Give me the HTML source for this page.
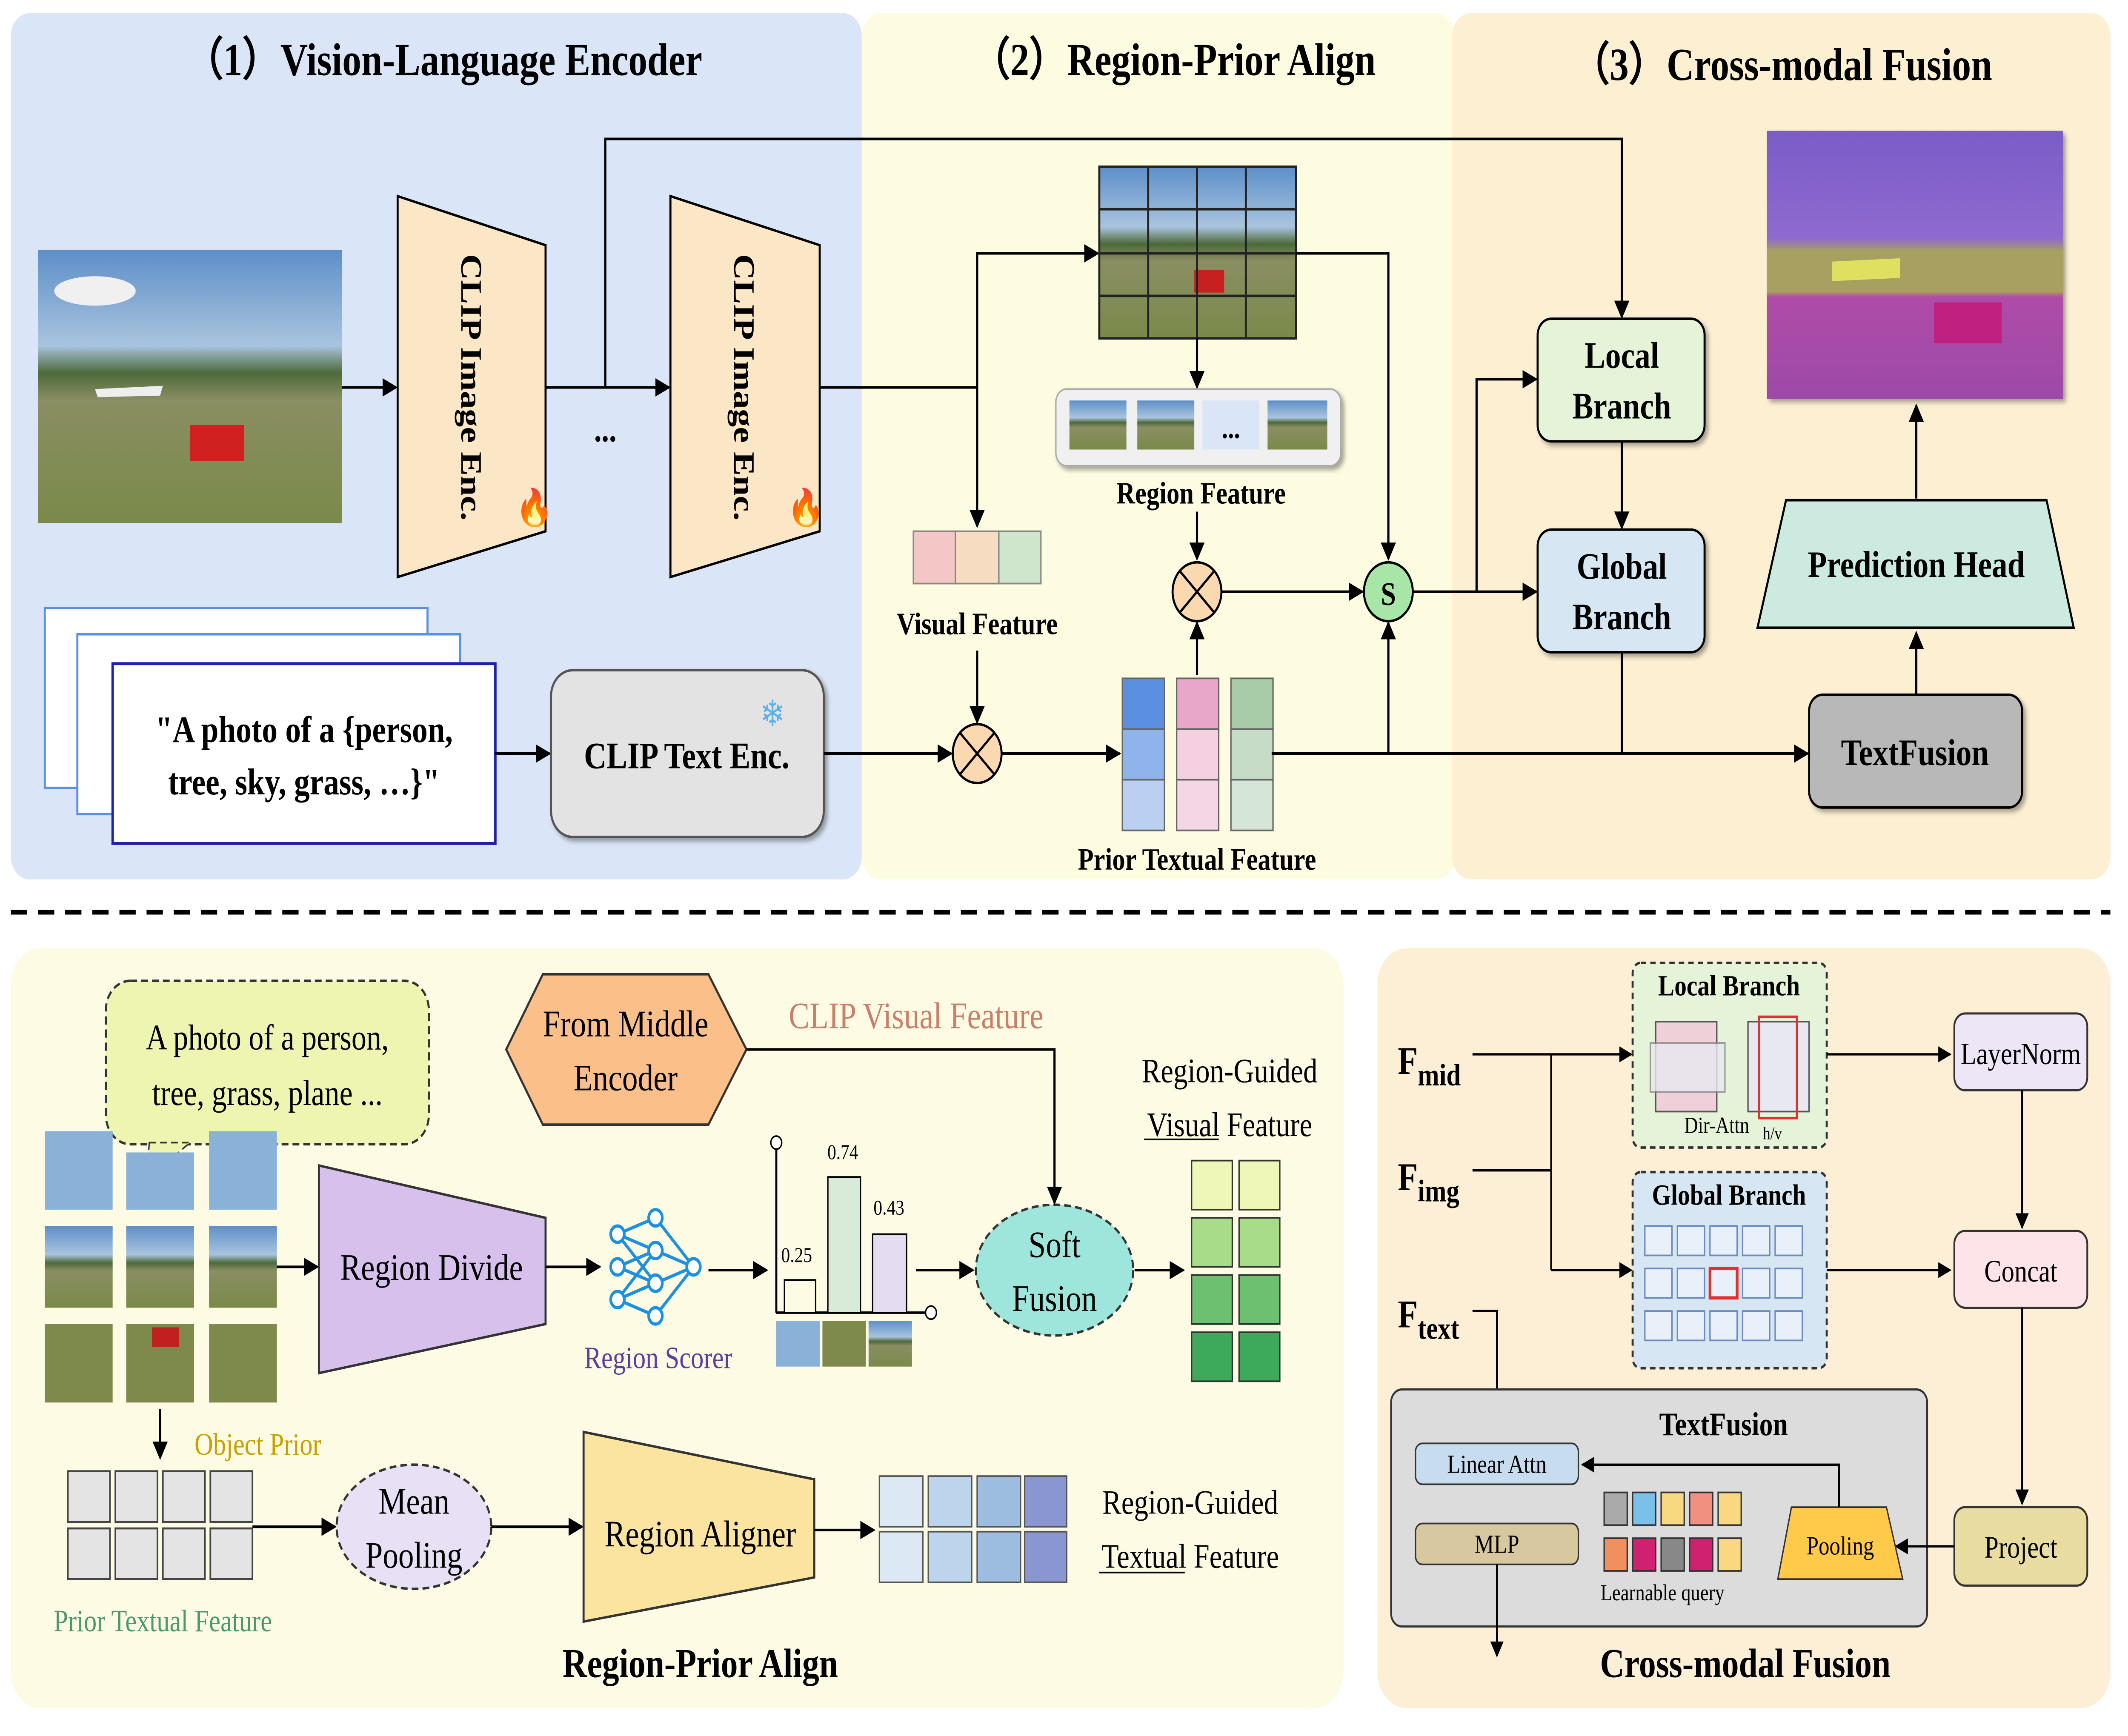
<!DOCTYPE html>
<html><head><meta charset="utf-8">
<style>
html,body{margin:0;padding:0;background:#fff;width:100%;height:100%;overflow:hidden;}
svg{display:block;position:fixed;left:0;top:0;width:100%;height:100%;}
text{font-family:"Liberation Serif",serif;}
</style></head>
<body>
<svg viewBox="0 0 1568 1062" preserveAspectRatio="none" xmlns="http://www.w3.org/2000/svg">
<defs>
<marker id="a" viewBox="0 0 10 10" refX="9" refY="5" markerWidth="7" markerHeight="7" orient="auto-start-reverse"><path d="M0,0L10,5L0,10z" fill="#000"/></marker>
<linearGradient id="photo" x1="0" y1="0" x2="0" y2="1">
<stop offset="0" stop-color="#5d8fc8"/><stop offset="0.35" stop-color="#a9c4de"/><stop offset="0.45" stop-color="#4d6a3a"/><stop offset="0.55" stop-color="#8a8e62"/><stop offset="1" stop-color="#7a8a4a"/></linearGradient>
<linearGradient id="seg" x1="0" y1="0" x2="0" y2="1">
<stop offset="0" stop-color="#7a5cc8"/><stop offset="0.4" stop-color="#8f6ad0"/><stop offset="0.45" stop-color="#a8a060"/><stop offset="0.6" stop-color="#a8a060"/><stop offset="0.62" stop-color="#b04ca8"/><stop offset="1" stop-color="#9d4aa8"/></linearGradient>
<filter id="sh"><feDropShadow dx="2" dy="2" stdDeviation="1.5" flood-opacity="0.35"/></filter>
</defs>
<g font-family="Liberation Serif, serif">
<rect x="8" y="8" width="627" height="530" rx="14" fill="#dae6f7"/>
<rect x="635" y="8" width="437" height="530" rx="14" fill="#fdfbe0"/>
<rect x="1070" y="8" width="485" height="530" rx="14" fill="#fcefd2"/>
<text x="327" y="46" font-size="28" font-weight="bold" text-anchor="middle">（1）Vision-Language Encoder</text>
<text x="865" y="46" font-size="28" font-weight="bold" text-anchor="middle">（2）Region-Prior Align</text>
<text x="1313" y="49" font-size="28" font-weight="bold" text-anchor="middle">（3）Cross-modal Fusion</text>

<rect x="28" y="153" width="224" height="167" fill="url(#photo)"/>
<ellipse cx="70" cy="178" rx="30" ry="9" fill="#f0f0f0"/>
<rect x="140" y="260" width="40" height="22" fill="#d02020"/>
<path d="M70,238 L120,236 L118,242 L72,243z" fill="#eee"/>

<polygon points="293,120 402,150 402,325 293,353" fill="#fbe7c6" stroke="#000" stroke-width="1.5"/>
<polygon points="494,120 604,150 604,325 494,353" fill="#fbe7c6" stroke="#000" stroke-width="1.5"/>
<text transform="translate(340,237) rotate(90)" font-size="22" font-weight="bold" text-anchor="middle">CLIP Image Enc.</text>
<text transform="translate(541,237) rotate(90)" font-size="22" font-weight="bold" text-anchor="middle">CLIP Image Enc.</text>
<text x="380" y="318" font-size="22">🔥</text><text x="580" y="318" font-size="22">🔥</text>
<line x1="252" y1="237" x2="292" y2="237" stroke="#000" stroke-width="1.6" marker-end="url(#a)"/>
<line x1="402" y1="237" x2="493" y2="237" stroke="#000" stroke-width="1.6" marker-end="url(#a)"/>
<text x="446" y="270" font-size="22" font-weight="bold" text-anchor="middle">...</text>
<polyline points="446,237 446,85 1195,85 1195,194" fill="none" stroke="#000" stroke-width="1.6" marker-end="url(#a)"/>
<polyline points="604,237 720,237" fill="none" stroke="#000" stroke-width="1.6"/>
<polyline points="720,318 720,155 809,155" fill="none" stroke="#000" stroke-width="1.6" marker-end="url(#a)"/>
<line x1="720" y1="237" x2="720" y2="322" stroke="#000" stroke-width="1.6" marker-end="url(#a)"/>

<rect x="810" y="102" width="145" height="105" fill="url(#photo)"/>
<rect x="880" y="165" width="22" height="14" fill="#c82020"/>
<g stroke="#222" stroke-width="1.5" fill="none">
<rect x="810" y="102" width="145" height="105"/>
<line x1="846" y1="102" x2="846" y2="207"/><line x1="882" y1="102" x2="882" y2="207"/><line x1="918" y1="102" x2="918" y2="207"/>
<line x1="810" y1="128" x2="955" y2="128"/><line x1="810" y1="155" x2="955" y2="155"/><line x1="810" y1="181" x2="955" y2="181"/>
</g>
<polyline points="955,155 1023,155 1023,342" fill="none" stroke="#000" stroke-width="1.6" marker-end="url(#a)"/>
<line x1="882" y1="207" x2="882" y2="237" stroke="#000" stroke-width="1.6" marker-end="url(#a)"/>
<rect x="778" y="238" width="210" height="47" rx="8" fill="#f0f0f0" stroke="#aaa" filter="url(#sh)"/>
<rect x="788" y="245" width="42" height="30" fill="url(#photo)"/><rect x="838" y="245" width="42" height="30" fill="url(#photo)"/>
<rect x="886" y="245" width="42" height="30" fill="#dae6f7"/><text x="907" y="268" font-size="18" font-weight="bold" text-anchor="middle">...</text>
<rect x="934" y="245" width="44" height="30" fill="url(#photo)"/>
<text x="885" y="308" font-size="19" font-weight="bold" text-anchor="middle">Region Feature</text>
<line x1="882" y1="313" x2="882" y2="342" stroke="#000" stroke-width="1.6" marker-end="url(#a)"/>
<g stroke="#000" stroke-width="1.5"><circle cx="882" cy="362" r="18" fill="#fbd9b0"/><line x1="869" y1="349" x2="895" y2="375"/><line x1="895" y1="349" x2="869" y2="375"/></g>
<line x1="900" y1="362" x2="1004" y2="362" stroke="#000" stroke-width="1.6" marker-end="url(#a)"/>
<circle cx="1023" cy="362" r="18" fill="#a8e6a8" stroke="#000" stroke-width="1.5"/>
<text x="1023" y="370" font-size="20" font-weight="bold" text-anchor="middle">S</text>

<rect x="673" y="325" width="31" height="32" fill="#f4c6c6" stroke="#888"/><rect x="704" y="325" width="32" height="32" fill="#f6dcc0" stroke="#888"/><rect x="736" y="325" width="31" height="32" fill="#cfe6cc" stroke="#888"/>
<text x="720" y="388" font-size="19" font-weight="bold" text-anchor="middle">Visual Feature</text>
<line x1="720" y1="398" x2="720" y2="442" stroke="#000" stroke-width="1.6" marker-end="url(#a)"/>
<g stroke="#000" stroke-width="1.5"><circle cx="720" cy="461" r="18" fill="#fbd9b0"/><line x1="707" y1="448" x2="733" y2="474"/><line x1="733" y1="448" x2="707" y2="474"/></g>

<rect x="33" y="372" width="282" height="110" fill="#fff" stroke="#5b8fe0" stroke-width="1.5"/>
<rect x="57" y="388" width="282" height="110" fill="#fff" stroke="#5b8fe0" stroke-width="1.5"/>
<rect x="83" y="406" width="282" height="110" fill="#fff" stroke="#2020b0" stroke-width="1.8"/>
<text x="224" y="454" font-size="23" font-weight="bold" text-anchor="middle">"A photo of a {person,</text>
<text x="224" y="486" font-size="23" font-weight="bold" text-anchor="middle">tree, sky, grass, …}"</text>
<line x1="365" y1="461" x2="405" y2="461" stroke="#000" stroke-width="1.6" marker-end="url(#a)"/>
<rect x="406" y="410" width="201" height="102" rx="16" fill="#e3e3e3" stroke="#555" stroke-width="1.5" filter="url(#sh)"/>
<text x="506" y="470" font-size="23" font-weight="bold" text-anchor="middle">CLIP Text Enc.</text>
<text x="560" y="444" font-size="22" fill="#5ab0e8">❄</text>
<line x1="607" y1="461" x2="701" y2="461" stroke="#000" stroke-width="1.6" marker-end="url(#a)"/>
<line x1="738" y1="461" x2="825" y2="461" stroke="#000" stroke-width="1.6" marker-end="url(#a)"/>

<g stroke="#666" stroke-width="1">
<rect x="827" y="415" width="31" height="31" fill="#5b8fe0"/><rect x="827" y="446" width="31" height="31" fill="#8fb4ec"/><rect x="827" y="477" width="31" height="31" fill="#b9d0f3"/>
<rect x="867" y="415" width="31" height="31" fill="#e8a6c8"/><rect x="867" y="446" width="31" height="31" fill="#f4d0e0"/><rect x="867" y="477" width="31" height="31" fill="#f4d6e4"/>
<rect x="907" y="415" width="31" height="31" fill="#a8cca8"/><rect x="907" y="446" width="31" height="31" fill="#c6dcc6"/><rect x="907" y="477" width="31" height="31" fill="#d6e6d6"/>
</g>
<text x="882" y="532" font-size="19" font-weight="bold" text-anchor="middle">Prior Textual Feature</text>
<line x1="882" y1="413" x2="882" y2="381" stroke="#000" stroke-width="1.6" marker-end="url(#a)"/>
<line x1="937" y1="461" x2="1332" y2="461" stroke="#000" stroke-width="1.6" marker-end="url(#a)"/>
<line x1="1023" y1="461" x2="1023" y2="381" stroke="#000" stroke-width="1.6" marker-end="url(#a)"/>
<line x1="1041" y1="362" x2="1132" y2="362" stroke="#000" stroke-width="1.6" marker-end="url(#a)"/>
<polyline points="1088,362 1088,232 1132,232" fill="none" stroke="#000" stroke-width="1.6" marker-end="url(#a)"/>

<rect x="1133" y="195" width="123" height="75" rx="10" fill="#e5f4d8" stroke="#000" stroke-width="1.5" filter="url(#sh)"/>
<text x="1195" y="225" font-size="23" font-weight="bold" text-anchor="middle">Local</text><text x="1195" y="256" font-size="23" font-weight="bold" text-anchor="middle">Branch</text>
<line x1="1195" y1="270" x2="1195" y2="323" stroke="#000" stroke-width="1.6" marker-end="url(#a)"/>
<rect x="1133" y="324" width="123" height="75" rx="10" fill="#d6e6f2" stroke="#000" stroke-width="1.5" filter="url(#sh)"/>
<text x="1195" y="354" font-size="23" font-weight="bold" text-anchor="middle">Global</text><text x="1195" y="385" font-size="23" font-weight="bold" text-anchor="middle">Branch</text>
<line x1="1195" y1="399" x2="1195" y2="461" stroke="#000" stroke-width="1.6"/>
<rect x="1333" y="425" width="157" height="69" rx="10" fill="#b8b8b8" stroke="#000" stroke-width="1.5" filter="url(#sh)"/>
<text x="1411" y="468" font-size="23" font-weight="bold" text-anchor="middle">TextFusion</text>
<line x1="1412" y1="425" x2="1412" y2="387" stroke="#000" stroke-width="1.6" marker-end="url(#a)"/>
<polygon points="1316,306 1508,306 1528,384 1295,384" fill="#cdeae0" stroke="#000" stroke-width="1.5"/>
<text x="1412" y="353" font-size="23" font-weight="bold" text-anchor="middle">Prediction Head</text>
<line x1="1412" y1="305" x2="1412" y2="248" stroke="#000" stroke-width="1.6" marker-end="url(#a)"/>
<rect x="1302" y="80" width="218" height="164" fill="url(#seg)" filter="url(#sh)"/>
<path d="M1350,160 L1400,158 L1400,170 L1350,172z" fill="#e0e060"/>
<rect x="1425" y="185" width="50" height="25" fill="#c02080"/>

<line x1="8" y1="558" x2="1555" y2="558" stroke="#000" stroke-width="3" stroke-dasharray="12,8"/>

<rect x="8" y="580" width="982" height="465" rx="22" fill="#fdfbe3"/>
<rect x="1015" y="580" width="540" height="465" rx="22" fill="#fcefd6"/>

<rect x="78" y="600" width="238" height="100" rx="18" fill="#eef5b0" stroke="#333" stroke-dasharray="5,3" stroke-width="1.5"/>
<polygon points="110,699 140,699 108,722" fill="#eef5b0" stroke="#333" stroke-dasharray="5,3"/>
<text x="197" y="642" font-size="22" text-anchor="middle">A photo of a person,</text>
<text x="197" y="676" font-size="22" text-anchor="middle">tree, grass, plane ...</text>

<g>
<rect x="33" y="692" width="50" height="48" fill="#8ab2d8"/><rect x="93" y="705" width="50" height="35" fill="#8ab2d8"/><rect x="154" y="692" width="50" height="48" fill="#8ab2d8"/>
<rect x="33" y="750" width="50" height="50" fill="url(#photo)"/><rect x="93" y="750" width="50" height="50" fill="url(#photo)"/><rect x="154" y="750" width="50" height="50" fill="url(#photo)"/>
<rect x="33" y="810" width="50" height="48" fill="#7d8a4c"/><rect x="93" y="810" width="50" height="48" fill="#7d8a4c"/><rect x="154" y="810" width="50" height="48" fill="#7d8a4c"/>
<rect x="112" y="812" width="20" height="12" fill="#c02020"/>
</g>
<line x1="204" y1="775" x2="234" y2="775" stroke="#000" stroke-width="1.6" marker-end="url(#a)"/>
<polygon points="235,713 402,745 402,810 235,840" fill="#d7c0ec" stroke="#333" stroke-width="1.5"/>
<text x="318" y="783" font-size="23" text-anchor="middle">Region Divide</text>
<line x1="402" y1="775" x2="442" y2="775" stroke="#000" stroke-width="1.6" marker-end="url(#a)"/>
<g stroke="#1e90e0" stroke-width="2" fill="#fff">
<line x1="455" y1="755" x2="483" y2="745"/><line x1="455" y1="755" x2="483" y2="765"/><line x1="455" y1="775" x2="483" y2="765"/><line x1="455" y1="775" x2="483" y2="785"/><line x1="455" y1="795" x2="483" y2="785"/><line x1="455" y1="795" x2="483" y2="805"/><line x1="483" y1="745" x2="511" y2="775"/><line x1="483" y1="765" x2="511" y2="775"/><line x1="483" y1="785" x2="511" y2="775"/><line x1="483" y1="805" x2="511" y2="775"/><line x1="455" y1="755" x2="483" y2="785"/><line x1="455" y1="795" x2="483" y2="765"/>
<circle cx="455" cy="755" r="5"/><circle cx="455" cy="775" r="5"/><circle cx="455" cy="795" r="5"/><circle cx="483" cy="745" r="5"/><circle cx="483" cy="765" r="5"/><circle cx="483" cy="785" r="5"/><circle cx="483" cy="805" r="5"/><circle cx="511" cy="775" r="5"/>
</g>
<text x="485" y="837" font-size="19" fill="#5b3fa0" text-anchor="middle">Region Scorer</text>
<line x1="522" y1="777" x2="565" y2="777" stroke="#000" stroke-width="1.6" marker-end="url(#a)"/>
<line x1="572" y1="703" x2="572" y2="803" stroke="#000" stroke-width="1.5"/><circle cx="572" cy="699" r="4" fill="#fff" stroke="#000"/>
<line x1="572" y1="803" x2="682" y2="803" stroke="#000" stroke-width="1.5"/><circle cx="686" cy="803" r="4" fill="#fff" stroke="#000"/>
<rect x="578" y="783" width="23" height="20" fill="#fdfbe3" stroke="#000"/>
<rect x="610" y="720" width="24" height="83" fill="#d8ead8" stroke="#000"/>
<rect x="643" y="755" width="25" height="48" fill="#e4dcf0" stroke="#000"/>
<text x="587" y="772" font-size="13" text-anchor="middle">0.25</text>
<text x="621" y="709" font-size="13" text-anchor="middle">0.74</text>
<text x="655" y="743" font-size="13" text-anchor="middle">0.43</text>
<rect x="572" y="808" width="32" height="28" fill="#8ab2d8"/><rect x="606" y="808" width="32" height="28" fill="#7d8a4c"/><rect x="640" y="808" width="32" height="28" fill="url(#photo)"/>
<line x1="675" y1="777" x2="717" y2="777" stroke="#000" stroke-width="1.6" marker-end="url(#a)"/>
<ellipse cx="777" cy="777" rx="58" ry="40" fill="#9ee6dc" stroke="#333" stroke-dasharray="5,3" stroke-width="1.5"/>
<text x="777" y="769" font-size="23" text-anchor="middle">Soft</text><text x="777" y="802" font-size="23" text-anchor="middle">Fusion</text>
<line x1="836" y1="777" x2="872" y2="777" stroke="#000" stroke-width="1.6" marker-end="url(#a)"/>
<polygon points="373,642 400,596 522,596 550,642 522,688 400,688" fill="#fbbf8a" stroke="#333" stroke-width="1.5"/>
<text x="461" y="634" font-size="23" text-anchor="middle">From Middle</text><text x="461" y="667" font-size="23" text-anchor="middle">Encoder</text>
<text x="675" y="629" font-size="23" fill="#c8806a" text-anchor="middle">CLIP Visual Feature</text>
<polyline points="550,642 777,642 777,736" fill="none" stroke="#000" stroke-width="1.6" marker-end="url(#a)"/>
<g stroke="#333" stroke-width="1">
<rect x="878" y="710" width="30" height="30" fill="#eef6b8"/><rect x="913" y="710" width="30" height="30" fill="#eef6b8"/>
<rect x="878" y="745" width="30" height="30" fill="#a8dc88"/><rect x="913" y="745" width="30" height="30" fill="#a8dc88"/>
<rect x="878" y="780" width="30" height="30" fill="#6cc070"/><rect x="913" y="780" width="30" height="30" fill="#6cc070"/>
<rect x="878" y="815" width="30" height="30" fill="#3caa5a"/><rect x="913" y="815" width="30" height="30" fill="#3caa5a"/>
</g>
<text x="906" y="662" font-size="21" text-anchor="middle">Region-Guided</text>
<text x="906" y="695" font-size="21" text-anchor="middle">Visual Feature</text>
<line x1="843" y1="697" x2="898" y2="697" stroke="#000" stroke-width="1"/>
<line x1="118" y1="862" x2="118" y2="892" stroke="#000" stroke-width="1.6" marker-end="url(#a)"/>
<text x="190" y="890" font-size="19" fill="#c8a000" text-anchor="middle">Object Prior</text>
<g stroke="#444" stroke-width="1.2" fill="#e4e4e4">
<rect x="50" y="900" width="31" height="31"/><rect x="85" y="900" width="31" height="31"/><rect x="120" y="900" width="31" height="31"/><rect x="155" y="900" width="31" height="31"/>
<rect x="50" y="935" width="31" height="31"/><rect x="85" y="935" width="31" height="31"/><rect x="120" y="935" width="31" height="31"/><rect x="155" y="935" width="31" height="31"/>
</g>
<text x="120" y="998" font-size="19" fill="#4a9a6a" text-anchor="middle">Prior Textual Feature</text>
<line x1="186" y1="934" x2="247" y2="934" stroke="#000" stroke-width="1.6" marker-end="url(#a)"/>
<ellipse cx="305" cy="934" rx="57" ry="38" fill="#e8e0f4" stroke="#333" stroke-dasharray="5,3" stroke-width="1.5"/>
<text x="305" y="926" font-size="23" text-anchor="middle">Mean</text><text x="305" y="959" font-size="23" text-anchor="middle">Pooling</text>
<line x1="362" y1="934" x2="429" y2="934" stroke="#000" stroke-width="1.6" marker-end="url(#a)"/>
<polygon points="430,876 600,905 600,965 430,992" fill="#fbe3a0" stroke="#333" stroke-width="1.5"/>
<text x="516" y="946" font-size="23" text-anchor="middle">Region Aligner</text>
<line x1="600" y1="936" x2="644" y2="936" stroke="#000" stroke-width="1.6" marker-end="url(#a)"/>
<g stroke="#555" stroke-width="1">
<rect x="648" y="903" width="32" height="31" fill="#dce8f4"/><rect x="684" y="903" width="32" height="31" fill="#bcd4ec"/><rect x="720" y="903" width="32" height="31" fill="#9cbce0"/><rect x="755" y="903" width="31" height="31" fill="#8a96d0"/>
<rect x="648" y="937" width="32" height="31" fill="#dce8f4"/><rect x="684" y="937" width="32" height="31" fill="#bcd4ec"/><rect x="720" y="937" width="32" height="31" fill="#9cbce0"/><rect x="755" y="937" width="31" height="31" fill="#8a96d0"/>
</g>
<text x="877" y="926" font-size="21" text-anchor="middle">Region-Guided</text>
<text x="877" y="959" font-size="21" text-anchor="middle">Textual Feature</text>
<line x1="810" y1="962" x2="873" y2="962" stroke="#000" stroke-width="1"/>
<text x="516" y="1026" font-size="25" font-weight="bold" text-anchor="middle">Region-Prior Align</text>

<text x="1030" y="657" font-size="24" font-weight="bold">F<tspan font-size="19" dy="7">mid</tspan></text>
<text x="1030" y="728" font-size="24" font-weight="bold">F<tspan font-size="19" dy="7">img</tspan></text>
<text x="1030" y="812" font-size="24" font-weight="bold">F<tspan font-size="19" dy="7">text</tspan></text>
<line x1="1085" y1="645" x2="1202" y2="645" stroke="#000" stroke-width="1.4" marker-end="url(#a)"/>
<line x1="1085" y1="716" x2="1143" y2="716" stroke="#000" stroke-width="1.4"/>
<line x1="1143" y1="645" x2="1143" y2="777" stroke="#000" stroke-width="1.4"/>
<line x1="1143" y1="777" x2="1202" y2="777" stroke="#000" stroke-width="1.4" marker-end="url(#a)"/>
<polyline points="1085,802 1103,802 1103,881" fill="none" stroke="#000" stroke-width="1.4" marker-end="url(#a)"/>
<rect x="1203" y="589" width="143" height="113" rx="6" fill="#e5f4d8" stroke="#333" stroke-dasharray="4,3" stroke-width="1.5"/>
<text x="1274" y="609" font-size="18" font-weight="bold" text-anchor="middle">Local Branch</text>
<rect x="1220" y="625" width="45" height="55" fill="#f0d0d8" stroke="#555"/><rect x="1216" y="638" width="55" height="30" fill="#e8e8f0" opacity="0.8" stroke="#888"/>
<rect x="1288" y="625" width="45" height="55" fill="#e8e8f0" stroke="#555"/><rect x="1296" y="622" width="28" height="62" fill="none" stroke="#e03030" stroke-width="1.5"/>
<text x="1265" y="693" font-size="14" text-anchor="middle">Dir-Attn</text><text x="1306" y="697" font-size="11" text-anchor="middle">h/v</text>
<rect x="1203" y="717" width="143" height="120" rx="6" fill="#d6e6f2" stroke="#333" stroke-dasharray="4,3" stroke-width="1.5"/>
<text x="1274" y="737" font-size="18" font-weight="bold" text-anchor="middle">Global Branch</text>
<g fill="#e8f0fa" stroke="#6a8ac0" stroke-width="1">
<rect x="1212" y="750" width="20" height="18"/><rect x="1236" y="750" width="20" height="18"/><rect x="1260" y="750" width="20" height="18"/><rect x="1284" y="750" width="20" height="18"/><rect x="1308" y="750" width="20" height="18"/>
<rect x="1212" y="776" width="20" height="18"/><rect x="1236" y="776" width="20" height="18"/><rect x="1260" y="776" width="20" height="18" stroke="#e03030" stroke-width="2"/><rect x="1284" y="776" width="20" height="18"/><rect x="1308" y="776" width="20" height="18"/>
<rect x="1212" y="802" width="20" height="18"/><rect x="1236" y="802" width="20" height="18"/><rect x="1260" y="802" width="20" height="18"/><rect x="1284" y="802" width="20" height="18"/><rect x="1308" y="802" width="20" height="18"/>
</g>
<line x1="1346" y1="645" x2="1437" y2="645" stroke="#000" stroke-width="1.4" marker-end="url(#a)"/>
<rect x="1440" y="620" width="98" height="47" rx="8" fill="#ece6f6" stroke="#333" stroke-width="1.3"/>
<text x="1489" y="651" font-size="19" text-anchor="middle">LayerNorm</text>
<line x1="1490" y1="667" x2="1490" y2="751" stroke="#000" stroke-width="1.4" marker-end="url(#a)"/>
<line x1="1346" y1="777" x2="1437" y2="777" stroke="#000" stroke-width="1.4" marker-end="url(#a)"/>
<rect x="1440" y="753" width="98" height="47" rx="8" fill="#fce4e8" stroke="#333" stroke-width="1.3"/>
<text x="1489" y="784" font-size="19" text-anchor="middle">Concat</text>
<line x1="1490" y1="800" x2="1490" y2="920" stroke="#000" stroke-width="1.4" marker-end="url(#a)"/>
<rect x="1025" y="850" width="395" height="145" rx="8" fill="#dcdcdc" stroke="#333" stroke-width="1.3"/>
<text x="1270" y="878" font-size="20" font-weight="bold" text-anchor="middle">TextFusion</text>
<rect x="1440" y="922" width="98" height="48" rx="8" fill="#e8dca0" stroke="#333" stroke-width="1.3"/>
<text x="1489" y="953" font-size="19" text-anchor="middle">Project</text>
<line x1="1440" y1="946" x2="1397" y2="946" stroke="#000" stroke-width="1.4" marker-end="url(#a)"/>
<polygon points="1320,922 1390,922 1402,966 1310,966" fill="#ffc94a" stroke="#333"/>
<text x="1356" y="951" font-size="16" text-anchor="middle">Pooling</text>
<polyline points="1355,922 1355,896 1166,896" fill="none" stroke="#000" stroke-width="1.4" marker-end="url(#a)"/>
<rect x="1043" y="883" width="120" height="25" rx="5" fill="#c8dcf0" stroke="#333"/>
<text x="1103" y="901" font-size="16" text-anchor="middle">Linear Attn</text>
<rect x="1043" y="932" width="120" height="25" rx="5" fill="#d8c8a0" stroke="#333"/>
<text x="1103" y="950" font-size="16" text-anchor="middle">MLP</text>
<line x1="1103" y1="957" x2="1103" y2="1013" stroke="#000" stroke-width="1.4" marker-end="url(#a)"/>
<g stroke="#333" stroke-width="1">
<rect x="1182" y="913" width="17" height="20" fill="#aaa"/><rect x="1203" y="913" width="17" height="20" fill="#7ac0e8"/><rect x="1224" y="913" width="17" height="20" fill="#f8d880"/><rect x="1245" y="913" width="17" height="20" fill="#f09080"/><rect x="1266" y="913" width="17" height="20" fill="#f8d880"/>
<rect x="1182" y="941" width="17" height="20" fill="#f09060"/><rect x="1203" y="941" width="17" height="20" fill="#d02070"/><rect x="1224" y="941" width="17" height="20" fill="#888"/><rect x="1245" y="941" width="17" height="20" fill="#d02070"/><rect x="1266" y="941" width="17" height="20" fill="#f8d880"/>
</g>
<text x="1225" y="979" font-size="14" text-anchor="middle">Learnable query</text>
<text x="1286" y="1026" font-size="25" font-weight="bold" text-anchor="middle">Cross-modal Fusion</text>
</g>
</svg>
</body></html>
